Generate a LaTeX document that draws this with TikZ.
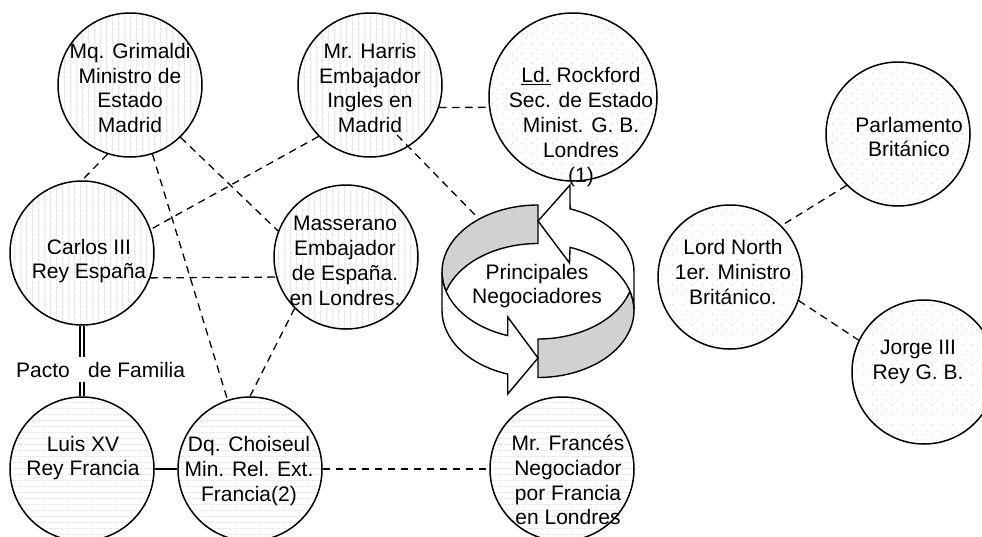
\documentclass[tikz,border=0pt]{standalone}
\usepackage{fontspec}
\setmainfont{Liberation Sans}
\usetikzlibrary{patterns}

% light fill patterns for the three groups of circles
\pgfdeclarepatternformonly{vstripe}{\pgfqpoint{0pt}{0pt}}{\pgfqpoint{6.3pt}{6pt}}{\pgfqpoint{6.3pt}{6pt}}{%
  \pgfsetlinewidth{1.4pt}%
  \pgfpathmoveto{\pgfqpoint{3pt}{0pt}}%
  \pgfpathlineto{\pgfqpoint{3pt}{6pt}}%
  \pgfusepath{stroke}}
\pgfdeclarepatternformonly{hstripe}{\pgfqpoint{0pt}{0pt}}{\pgfqpoint{6pt}{6pt}}{\pgfqpoint{6pt}{6pt}}{%
  \pgfsetlinewidth{1.4pt}%
  \pgfpathmoveto{\pgfqpoint{0pt}{3pt}}%
  \pgfpathlineto{\pgfqpoint{6pt}{3pt}}%
  \pgfusepath{stroke}}
\pgfdeclarepatternformonly{dotgrid}{\pgfqpoint{0pt}{0pt}}{\pgfqpoint{10pt}{10pt}}{\pgfqpoint{10pt}{10pt}}{%
  \pgfpathcircle{\pgfqpoint{2.5pt}{2.5pt}}{0.65pt}%
  \pgfpathcircle{\pgfqpoint{7.5pt}{7.5pt}}{0.65pt}%
  \pgfusepath{fill}}

\tikzset{
  party/.style={circle, draw=black, line width=1.5pt, minimum size=144pt, inner sep=0pt},
  spain/.style={party, pattern=vstripe, pattern color=black!9},
  france/.style={party, pattern=hstripe, pattern color=black!8},
  britain/.style={party, pattern=dotgrid, pattern color=black!24},
  caption/.style={font=\fontsize{21}{24.8}\selectfont, align=center, inner sep=0pt},
  link/.style={line width=1.3pt, dash pattern=on 7.5pt off 5.5pt},
  ringline/.style={draw=black, line width=1.4pt, line join=miter},
  e1/.style={x radius=96pt, y radius=67pt},
}

\begin{document}
\begin{tikzpicture}[x=1pt, y=-1pt]
\useasboundingbox (0,0) rectangle (982,536);
\clip (0,0) rectangle (982,536);

% circles
\node[spain]   (grim)  at (130,85)  {};
\node[spain]   (harris) at (370,85) {};
\node[britain, minimum size=168pt] (rock) at (573,97) {};
\node[spain]   (carlos) at (82,253) {};
\node[spain]   (mass)  at (346,257) {};
\node[france]  (luis)  at (82,469)  {};
\node[france]  (cho)   at (250,469) {};
\node[france]  (fran)  at (562,469) {};
\node[britain] (parl)  at (898,134) {};
\node[britain] (north) at (730,277) {};
\node[britain] (jorge) at (924,372) {};

% revolving arrow of the negotiators
\fill[black!18] (538,205) arc[start angle=90, end angle=196.7, e1]
  arc[start angle=163.3, end angle=90, e1] -- cycle;
\fill[black!18] (538,339) arc[start angle=270, end angle=343.3, e1]
  arc[start angle=16.7, end angle=-90, e1] -- cycle;
\draw[ringline] (538,205) arc[start angle=90, end angle=196.7, e1]
  arc[start angle=163.3, end angle=90, e1] -- cycle;
\draw[ringline] (538,339) arc[start angle=270, end angle=343.3, e1]
  arc[start angle=16.7, end angle=-90, e1] -- cycle;
\filldraw[ringline, fill=white] (442,272) arc[start angle=180, end angle=251.6, e1]
  -- (507.7,317) -- (538,358) -- (507.7,394) -- (507.7,374.1)
  arc[start angle=251.6, end angle=180, e1] -- cycle;
\filldraw[ringline, fill=white] (634,310.5) arc[start angle=0, end angle=70.5, e1]
  -- (569.5,263) -- (538,221) -- (570,185) -- (570.05,208.84)
  arc[start angle=70.5, end angle=0, e1] -- cycle;
\node[caption] (negoc) at (537,286) {Principales\\Negociadores};

% connectors
\coordinate (hsrc) at (397,135);
\coordinate (ringin) at (479,219);
\draw[link] (grim.252) -- (carlos.90);
\draw[link] (grim.288) -- (cho.108);
\draw[link] (grim.314) -- (mass.159);
\draw[link] (harris.225) -- (carlos.19);
\draw[link] (harris.-18.6) -- (rock.187.5);
\draw[link] (hsrc) -- (ringin);
\draw[link] (carlos.-20) -- (mass.196.8);
\draw[link] (cho.90) -- (mass.225);
\draw[link] (cho.0) -- (fran.180);
\draw[link] (parl.225) -- (north.45);
\draw[link] (north.341) -- (jorge.154);
\draw[line width=1.4pt] (luis.0) -- (cho.180);
\draw[line width=1.4pt, double, double distance=2.5pt] (carlos.south) -- (luis.north);
\node[caption, fill=white, inner ysep=5pt, anchor=base west] (pacto) at (16,377)
  {Pacto\hspace{18.3pt}de Familia};

% names and offices
\node[caption] (tgrim)  at (130,88)  {Mq. Grimaldi\\Ministro de\\Estado\\Madrid};
\node[caption] (tharris) at (370,88) {Mr. Harris\\Embajador\\Ingles en\\Madrid};
\node[caption] (trock)  at (581,127) {\underline{Ld.} Rockford\\Sec. de Estado\\Minist. G. B.\\Londres\\(1)};
\node[caption] (tcarlos) at (89,261) {Carlos III\\Rey España};
\node[caption] (tmass)  at (345,261) {Masserano\\Embajador\\de España.\\en Londres.};
\node[caption] (tluis)  at (83,458)  {Luis XV\\Rey Francia};
\node[caption] (tcho)   at (249,471) {Dq. Choiseul\\Min. Rel. Ext.\\Francia(2)};
\node[caption] (tfran)  at (568,480) {Mr. Francés\\Negociador\\por Francia\\en Londres};
\node[caption] (tparl)  at (909,137) {Parlamento\\Británico};
\node[caption] (tnorth) at (733,272) {Lord North\\1er. Ministro\\Británico.};
\node[caption] (tjorge) at (918,362) {Jorge III\\Rey G. B.};
\end{tikzpicture}
\end{document}
